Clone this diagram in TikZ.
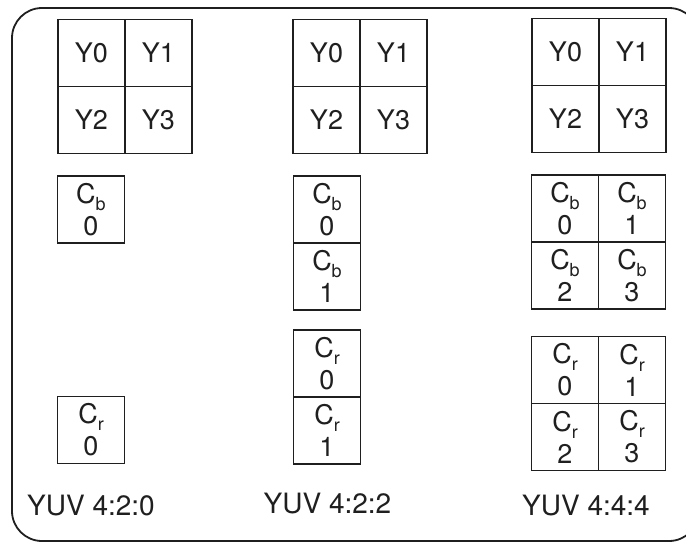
\documentclass[tikz,border=0pt]{standalone}
\usepackage{fontspec}
\setmainfont{TeX Gyre Heros}
\newcommand{\csub}[1]{\raisebox{-7pt}{\fontsize{18}{18}\selectfont #1}}
\begin{document}
\begin{tikzpicture}[x=1pt,y=-1pt,
  cell/.style={draw=black!88, line width=1.8pt, minimum width=67pt, minimum height=67pt,
    inner sep=0pt, font=\fontsize{27}{32}\selectfont, text=black!88},
  ccell/.style={cell, align=center},
  lab/.style={font=\fontsize{28}{30}\selectfont, text=black!88, inner sep=0pt}]
\useasboundingbox (0,0) rectangle (686,542);
\fill[white] (0,0) rectangle (686,542);
\draw[black!88, line width=1.8pt, rounded corners=30pt] (12,8) rectangle (699,541);

% YUV 4:2:0
\node[cell] (a-y0) at (91.5,53) {Y0};
\node[cell] (a-y1) at (158.5,53) {Y1};
\node[cell] (a-y2) at (91.5,120) {Y2};
\node[cell] (a-y3) at (158.5,120) {Y3};
\node[ccell] (a-cb0) at (91,209.5) {C\csub{b}\\0};
\node[ccell] (a-cr0) at (91,430) {C\csub{r}\\0};
\node[lab] (a-lab) at (91,506) {YUV 4:2:0};

% YUV 4:2:2
\node[cell] (b-y0) at (326.5,53) {Y0};
\node[cell] (b-y1) at (393.5,53) {Y1};
\node[cell] (b-y2) at (326.5,120) {Y2};
\node[cell] (b-y3) at (393.5,120) {Y3};
\node[ccell] (b-cb0) at (327,209.5) {C\csub{b}\\0};
\node[ccell] (b-cb1) at (327,276.5) {C\csub{b}\\1};
\node[ccell] (b-cr0) at (327,363.5) {C\csub{r}\\0};
\node[ccell] (b-cr1) at (327,430.5) {C\csub{r}\\1};
\node[lab] (b-lab) at (327.5,504) {YUV 4:2:2};

% YUV 4:4:4
\node[cell] (c-y0) at (565.5,52) {Y0};
\node[cell] (c-y1) at (632.5,52) {Y1};
\node[cell] (c-y2) at (565.5,119) {Y2};
\node[cell] (c-y3) at (632.5,119) {Y3};
\node[ccell] (c-cb0) at (565,208.5) {C\csub{b}\\0};
\node[ccell] (c-cb1) at (632,208.5) {C\csub{b}\\1};
\node[ccell] (c-cb2) at (565,275.5) {C\csub{b}\\2};
\node[ccell] (c-cb3) at (632,275.5) {C\csub{b}\\3};
\node[ccell] (c-cr0) at (565,370) {C\csub{r}\\0};
\node[ccell] (c-cr1) at (632,370) {C\csub{r}\\1};
\node[ccell] (c-cr2) at (565,437) {C\csub{r}\\2};
\node[ccell] (c-cr3) at (632,437) {C\csub{r}\\3};
\node[lab] (c-lab) at (586,506) {YUV 4:4:4};
\end{tikzpicture}
\end{document}
